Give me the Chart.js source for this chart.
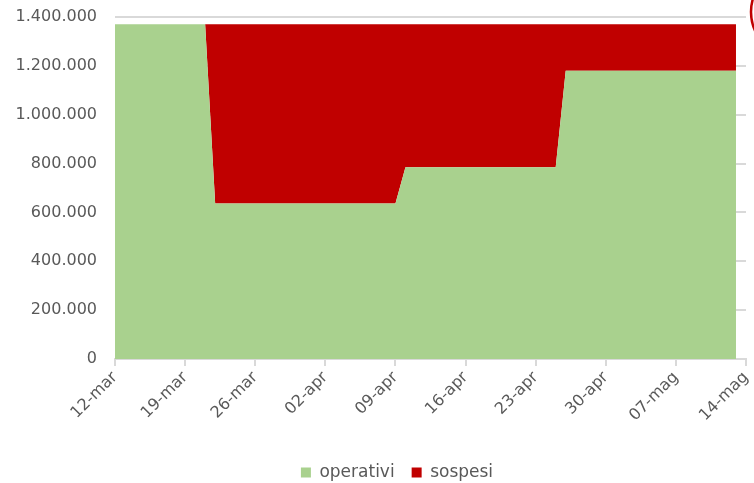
<!DOCTYPE html>
<html>
<head>
<meta charset="utf-8">
<script src="https://cdn.jsdelivr.net/npm/chart.js@4/dist/chart.umd.min.js"></script>
<style>
  html, body { margin: 0; padding: 0; background: #ffffff; }
  #wrap { position: relative; width: 754px; height: 483px; }
</style>
</head>
<body>
<div id="wrap"><canvas id="c"></canvas></div>
<script>
// ---- data ----
const startDate = '2020-03-12';
const tickLabels = ['12-mar','19-mar','26-mar','02-apr','09-apr','16-apr','23-apr','30-apr','07-mag','14-mag'];
const dates     = ['2020-03-12','2020-03-21','2020-03-22','2020-04-09','2020-04-10','2020-04-25','2020-04-26','2020-05-13'];
const operativi = [1370000, 1370000, 637000, 637000, 785000, 785000, 1180000, 1180000];
const sospesi   = [0, 0, 733000, 733000, 585000, 585000, 190000, 190000];
const yTicks    = [0, 200000, 400000, 600000, 800000, 1000000, 1200000, 1400000];

const dayIndex = d => Math.round((Date.parse(d) - Date.parse(startDate)) / 86400000);
const toPoints = arr => arr.map((v, i) => ({ x: dayIndex(dates[i]), y: v }));
const fmt = v => String(v).replace(/\B(?=(\d{3})+(?!\d))/g, '.');

const FONT = 'DejaVu Sans';
const GREY = '#595959';
const GRID = '#d9d9d9';

const cornerArc = {
  id: 'cornerArc',
  afterLayout(chart) {
    if (chart.legend) { chart.legend.left += 24; chart.legend.right += 24; }
  },
  afterDraw(chart) {
    const ctx = chart.ctx;
    ctx.save();
    ctx.beginPath();
    ctx.arc(795, 12, 44, 0, Math.PI * 2);
    ctx.strokeStyle = '#c00000';
    ctx.lineWidth = 2.5;
    ctx.stroke();
    ctx.restore();
  }
};

new Chart(document.getElementById('c'), {
  type: 'line',
  data: {
    datasets: [
      {
        label: 'operativi',
        data: toPoints(operativi),
        backgroundColor: '#a9d18e',
        borderColor: '#a9d18e',
        borderWidth: 0,
        pointRadius: 0,
        fill: 'origin',
        tension: 0
      },
      {
        label: 'sospesi',
        data: toPoints(sospesi),
        backgroundColor: '#c00000',
        borderColor: '#c00000',
        borderWidth: 0,
        pointRadius: 0,
        fill: '-1',
        tension: 0
      }
    ]
  },
  options: {
    responsive: true,
    maintainAspectRatio: false,
    animation: false,
    layout: { padding: { top: 17, left: 0, right: 8, bottom: -8 } },
    plugins: {
      legend: {
        position: 'bottom',
        labels: {
          boxWidth: 10,
          boxHeight: 10,
          padding: 17,
          color: GREY,
          font: { family: FONT, size: 17 }
        }
      },
      tooltip: { enabled: false }
    },
    scales: {
      x: {
        type: 'linear',
        min: 0,
        max: 63,
        afterFit: s => { s.height = 88; s.paddingLeft = 0; s.paddingRight = 0; },
        afterBuildTicks: s => { s.ticks = tickLabels.map((_, i) => ({ value: i * 7 })); },
        ticks: {
          autoSkip: false,
          maxRotation: 45,
          minRotation: 45,
          padding: 2,
          color: GREY,
          font: { family: FONT, size: 16 },
          callback: v => tickLabels[Math.round(v / 7)]
        },
        grid: { drawOnChartArea: false, drawTicks: true, tickLength: 7, color: GRID, lineWidth: 2 },
        border: { display: true, color: GRID, width: 2 }
      },
      y: {
        stacked: true,
        min: 0,
        max: 1400000,
        afterFit: s => { s.width = 115; s.paddingTop = 0; s.paddingBottom = 0; },
        afterBuildTicks: s => { s.ticks = yTicks.map(v => ({ value: v })); },
        ticks: {
          padding: 18,
          color: GREY,
          font: { family: FONT, size: 16 },
          callback: v => fmt(v)
        },
        grid: { color: GRID, lineWidth: 2, drawTicks: false },
        border: { display: false }
      }
    }
  },
  plugins: [cornerArc]
});
</script>
</body>
</html>
